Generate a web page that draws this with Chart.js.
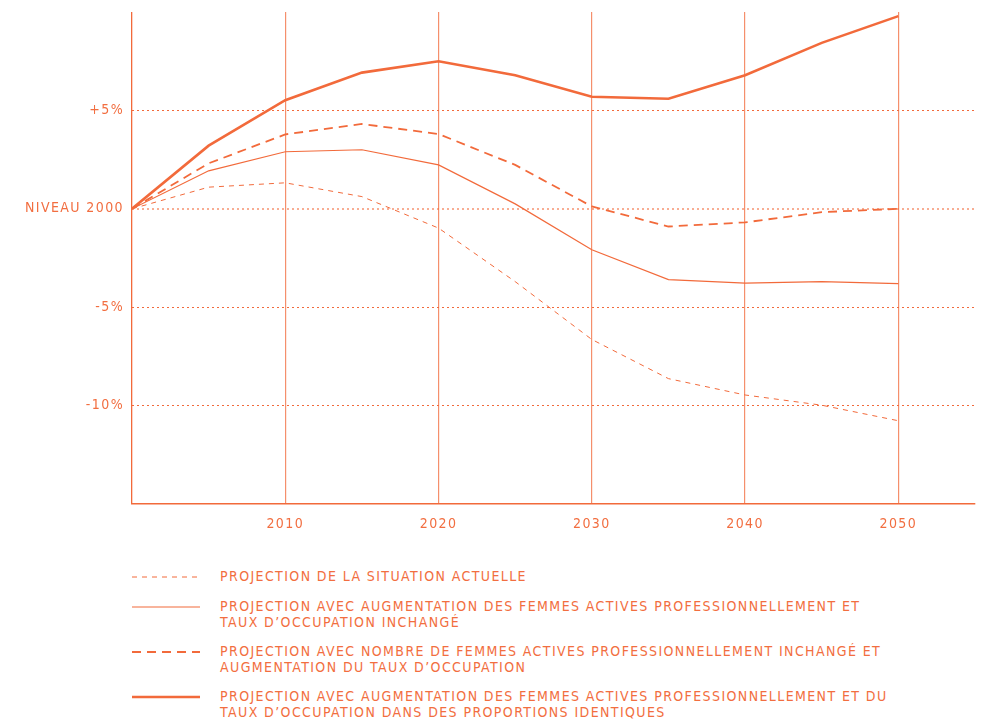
<!DOCTYPE html>
<html>
<head>
<meta charset="utf-8">
<script src="https://cdn.jsdelivr.net/npm/chart.js@4/dist/chart.umd.min.js"></script>
<style>
  body { margin: 0; background: #fff; }
  #wrap { position: relative; width: 988px; height: 725px; }
  #legend { position: absolute; left: 132px; top: 569px; color: #F26E40;
    font-family: "DejaVu Sans Condensed", "DejaVu Sans", sans-serif; font-stretch: condensed;
    font-size: 14px; letter-spacing: 1.4px; line-height: 15.5px; }
  .item { display: flex; align-items: flex-start; margin-bottom: 14px; }
  .item svg { width: 68px; height: 16px; margin-right: 20px; flex: none; }
</style>
</head>
<body>
<div id="wrap">
  <canvas id="chart" width="988" height="545"></canvas>
  <div id="legend"></div>
</div>
<script>
// years and projections (% change vs 2000)
const years = [2000, 2005, 2010, 2015, 2020, 2025, 2030, 2035, 2040, 2045, 2050];
const situationActuelle = [0, 1.1, 1.32, 0.62, -0.98, -3.7, -6.64, -8.63, -9.46, -9.98, -10.77];
const femmesActives = [0, 1.93, 2.9, 3.0, 2.23, 0.25, -2.08, -3.6, -3.78, -3.7, -3.8];
const tauxOccupation = [0, 2.31, 3.78, 4.31, 3.8, 2.23, 0.12, -0.9, -0.69, -0.17, 0];
const lesDeux = [0, 3.21, 5.52, 6.92, 7.5, 6.79, 5.69, 5.59, 6.79, 8.43, 9.79];

const seriesLabels = [
  ['PROJECTION DE LA SITUATION ACTUELLE'],
  ['PROJECTION AVEC AUGMENTATION DES FEMMES ACTIVES PROFESSIONNELLEMENT ET', 'TAUX D\u2019OCCUPATION INCHANGÉ'],
  ['PROJECTION AVEC NOMBRE DE FEMMES ACTIVES PROFESSIONNELLEMENT INCHANGÉ ET', 'AUGMENTATION DU TAUX D\u2019OCCUPATION'],
  ['PROJECTION AVEC AUGMENTATION DES FEMMES ACTIVES PROFESSIONNELLEMENT ET DU', 'TAUX D\u2019OCCUPATION DANS DES PROPORTIONS IDENTIQUES']
];
const yTickLabels = { '-10': '-10%', '-5': '-5%', '0': 'NIVEAU 2000', '5': '+5%' };

const orange = '#F26A3B';
const textColor = '#F26E40';
const tickFont = { family: '"DejaVu Sans Condensed", "DejaVu Sans"', size: 14 };
const styles = [
  { width: 1, dash: [5, 5] },
  { width: 1.2, dash: [] },
  { width: 1.8, dash: [9, 6] },
  { width: 2.6, dash: [] }
];
const allSeries = [situationActuelle, femmesActives, tauxOccupation, lesDeux];

const letterSpacing = {
  id: 'letterSpacing',
  beforeDraw(chart) { chart.ctx.letterSpacing = '1.4px'; }
};

new Chart(document.getElementById('chart'), {
  type: 'line',
  data: {
    datasets: allSeries.map((vals, i) => ({
      label: seriesLabels[i].join(' '),
      data: years.map((x, j) => ({ x, y: vals[j] })),
      borderColor: orange,
      borderWidth: styles[i].width,
      borderDash: styles[i].dash,
      pointRadius: 0,
      tension: 0,
      fill: false
    }))
  },
  options: {
    responsive: false,
    animation: false,
    layout: { padding: { top: 12, right: 13, left: 0, bottom: 0 } },
    plugins: { legend: { display: false }, tooltip: { enabled: false } },
    scales: {
      x: {
        type: 'linear',
        min: 2000,
        max: 2055,
        afterFit(scale) { scale.height = 41; scale.paddingLeft = 0; scale.paddingRight = 0; },
        ticks: {
          stepSize: 10,
          padding: 12,
          color: textColor,
          font: tickFont,
          callback: v => (v > 2000 && v <= 2050 && v % 10 === 0) ? String(v) : ''
        },
        grid: {
          drawTicks: false,
          color: ctx => {
            const v = ctx.tick && ctx.tick.value;
            if (v === 2000) return orange;
            return (v > 2000 && v <= 2050 && v % 10 === 0) ? 'rgba(242,106,59,0.75)' : 'rgba(0,0,0,0)';
          },
          lineWidth: ctx => (ctx.tick && ctx.tick.value === 2000) ? 1.3 : 1.2
        },
        border: { display: true, color: orange, width: 1.5 }
      },
      y: {
        min: -15,
        max: 10,
        afterFit(scale) { scale.width = 132; scale.paddingTop = 0; scale.paddingBottom = 0; },
        ticks: {
          stepSize: 5,
          padding: 8,
          color: textColor,
          font: tickFont,
          callback: v => yTickLabels[String(v)] || ''
        },
        grid: {
          drawTicks: false,
          color: ctx => {
            const v = ctx.tick && ctx.tick.value;
            if (v === 0) return 'rgba(242,106,59,0.55)';
            return (v === 5 || v === -5 || v === -10) ? orange : 'rgba(0,0,0,0)';
          },
          lineWidth: ctx => (ctx.tick && ctx.tick.value === 0) ? 2 : 1
        },
        border: { display: false, dash: [2, 3] }
      }
    }
  },
  plugins: [letterSpacing]
});

// legend
const legend = document.getElementById('legend');
seriesLabels.forEach((lines, i) => {
  const s = styles[i];
  const item = document.createElement('div');
  item.className = 'item';
  item.innerHTML =
    '<svg viewBox="0 0 68 16"><line x1="0" y1="8" x2="68" y2="8" stroke="' + orange +
    '" stroke-width="' + s.width + '" stroke-dasharray="' + (s.dash.join(' ') || 'none') + '"/></svg>' +
    '<div>' + lines.join('<br>') + '</div>';
  legend.appendChild(item);
});
</script>
</body>
</html>
